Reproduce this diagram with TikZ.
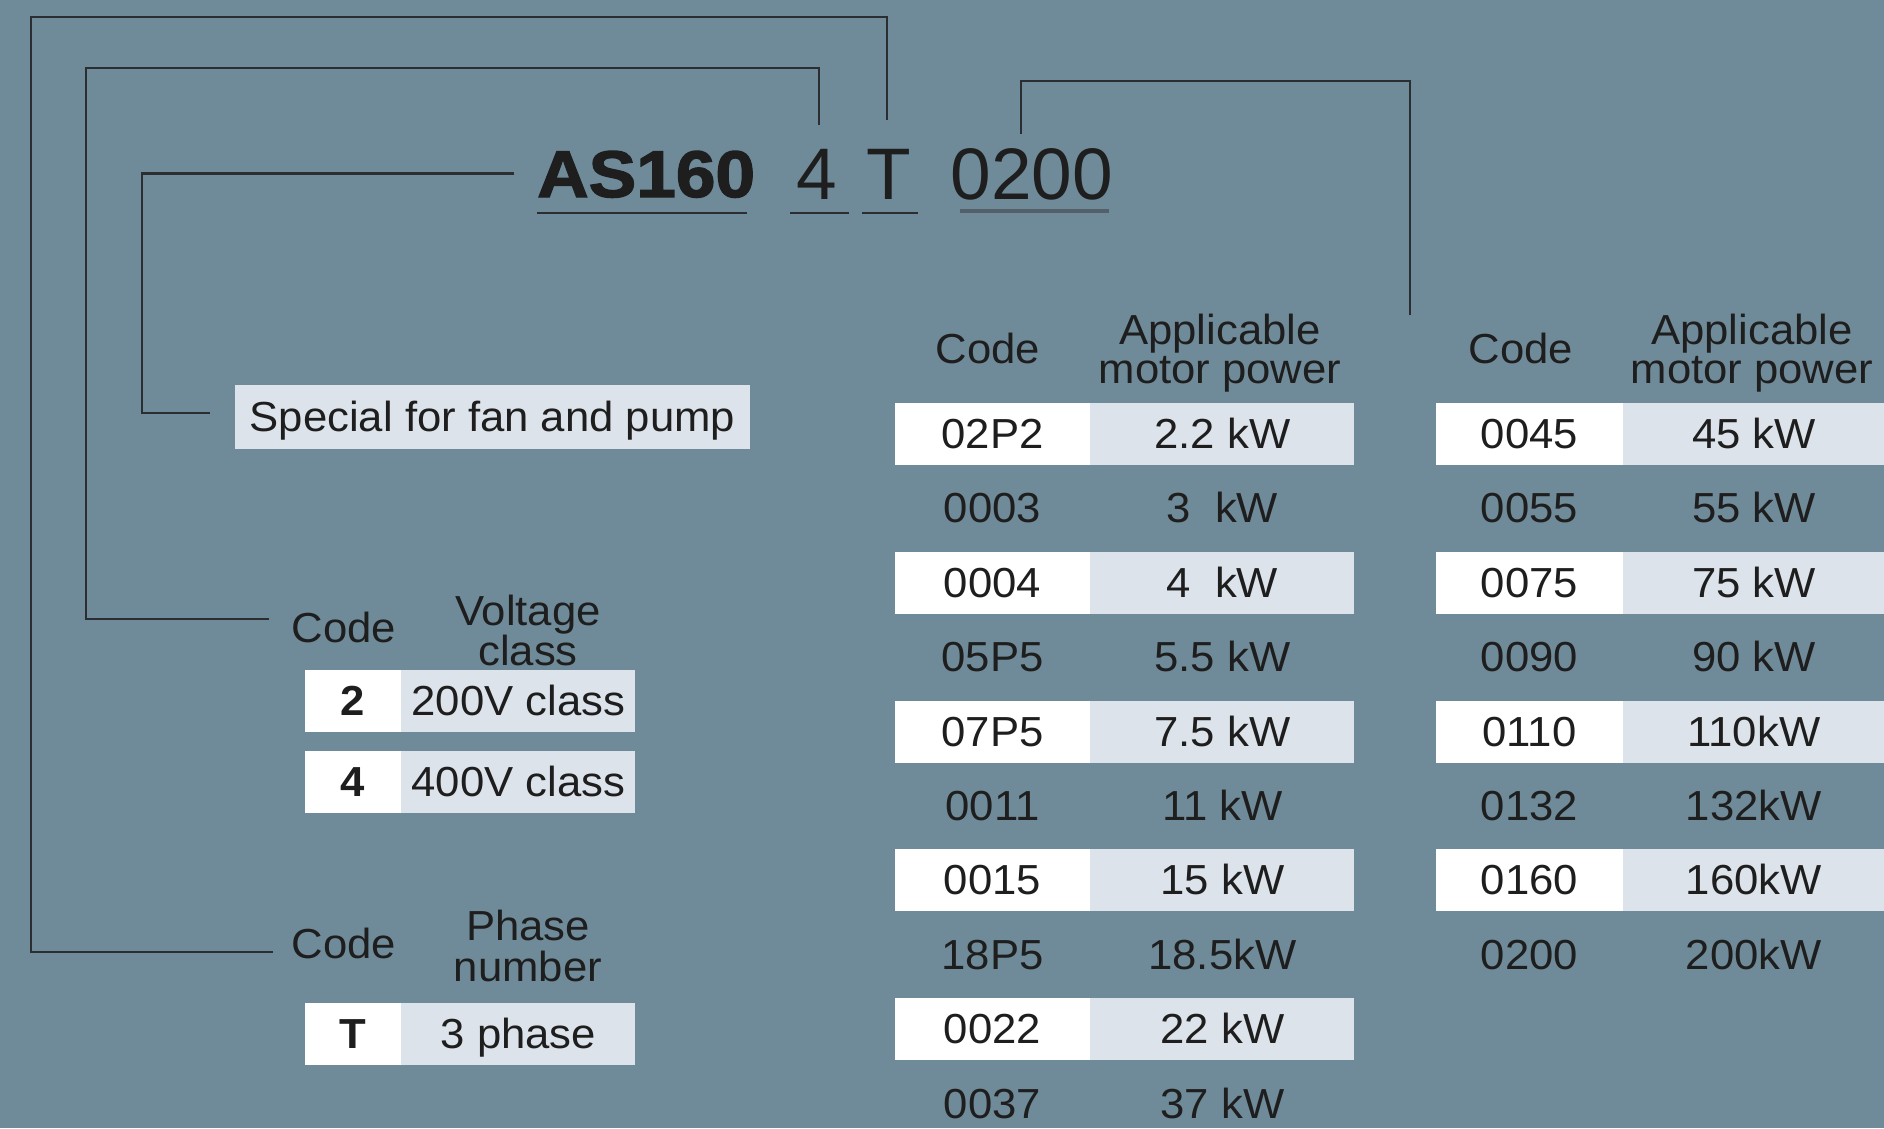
\documentclass[tikz,border=0pt]{standalone}
\usepackage{fontspec}
\setmainfont{Liberation Sans}
\newfontfamily\tabfont{Liberation Sans}[FakeStretch=1.04]
\newfontfamily\heavyfont{Liberation Sans}[FakeStretch=1.08,FakeBold=2]
\usetikzlibrary{positioning}
\definecolor{panel}{HTML}{6F8B99}
\definecolor{paleblue}{HTML}{DCE3EA}
\definecolor{ink}{HTML}{1E1E1E}
\definecolor{leadline}{HTML}{2B2E31}
\definecolor{ulgrey}{HTML}{535F69}
\tikzset{
  lead/.style={draw=leadline, line width=2.6pt},
  uline/.style={draw=leadline, line width=2.6pt},
  tabcell/.style={inner sep=0pt, minimum height=62pt, text height=29pt, text depth=0pt,
    font=\tabfont\fontsize{42}{42}\selectfont, text=ink},
  codecell/.style={tabcell, fill=white},
  powercell/.style={tabcell, fill=paleblue},
  colhead/.style={inner sep=0pt, align=center, font=\tabfont\fontsize{42}{39}\selectfont, text=ink},
  codepart/.style={inner sep=0pt, anchor=base, text height=52pt, text depth=0pt,
    font=\fontsize{73}{73}\selectfont, text=ink}
}
\begin{document}
\begin{tikzpicture}[x=1pt, y=-1pt, line join=miter]
  \useasboundingbox (0,0) rectangle (1884,1128);
  \fill[panel] (0,0) rectangle (1884,1128);

  % model code
  \node[codepart, anchor=base west, text height=47pt, font=\heavyfont\bfseries\fontsize{66}{66}\selectfont] (series) at (537,197) {AS160};
  \node[codepart] (volt) at (817,199) {4};
  \node[codepart] (phase) at (889,199) {T};
  \node[codepart] (power) at (1032,199) {0200};
  \draw[uline] (537,213) -- (747,213);
  \draw[uline] (790,213) -- (849,213);
  \draw[uline] (862,213) -- (918,213);
  \draw[uline, draw=ulgrey, line width=4pt] (960,211) -- (1109,211);

  % leaders
  \coordinate (fan end) at (210,413);
  \coordinate (volt end) at (269,619);
  \coordinate (phase end) at (273,952);
  \coordinate (power end) at (1410,315);
  \draw[lead] ([xshift=-23pt]series.west) -| (142,413) -- (fan end);
  \draw[lead] ([xshift=2pt,yshift=22pt]volt.north) |- (86,68) |- (volt end);
  \draw[lead] ([xshift=-2pt,yshift=27pt]phase.north) |- (31,17) |- (phase end);
  \draw[lead] ([xshift=-11pt,yshift=13pt]power.north) |- (1410,81) -- (power end);

  \node[powercell, minimum width=515pt, minimum height=64pt] (fan) at (492.5,417) {Special for fan and pump};

  % voltage class
  \node[colhead, anchor=base] (vcode) at (344,642) {Code};
  \node[colhead, anchor=north] (vclass) at (528,595) {Voltage\\class};
  \node[codecell, minimum width=96pt, font=\tabfont\bfseries\fontsize{42}{42}\selectfont] (v2) at (353,701) {2};
  \node[powercell, minimum width=234pt, right=0pt of v2] (v2desc) {200V class};
  \node[codecell, minimum width=96pt, font=\tabfont\bfseries\fontsize{42}{42}\selectfont] (v4) at (353,782) {4};
  \node[powercell, minimum width=234pt, right=0pt of v4] (v4desc) {400V class};

  % phase number
  \node[colhead, anchor=base] (pcode) at (344,958) {Code};
  \node[colhead, anchor=north, font=\tabfont\fontsize{42}{41}\selectfont] (pnum) at (528,910) {Phase\\number};
  \node[codecell, minimum width=96pt, font=\tabfont\bfseries\fontsize{42}{42}\selectfont] (pT) at (353,1033.5) {T};
  \node[powercell, minimum width=234pt, right=0pt of pT] (pTdesc) {3 phase};

  % motor power, first column
  \node[colhead, anchor=base] (acode) at (988,363) {Code};
  \node[colhead, anchor=north] (apower) at (1220,314) {Applicable\\motor power};
  \foreach \code/\kw [count=\i from 0] in {02P2/2.2 kW, 0003/3\ \ kW, 0004/4\ \ kW, 05P5/5.5 kW, 07P5/7.5 kW,
      0011/11 kW, 0015/15 kW, 18P5/18.5kW, 0022/22 kW, 0037/37 kW}{
    \ifodd\i \def\codestyle{tabcell}\def\kwstyle{tabcell}\else \def\codestyle{codecell}\def\kwstyle{powercell}\fi
    \node[\codestyle, minimum width=195pt] (a\i) at (992.5,{434+74.4*\i}) {\code};
    \node[\kwstyle, minimum width=264pt, right=0pt of a\i] (akw\i) {\kw};
  }

  % motor power, second column
  \node[colhead, anchor=base] (bcode) at (1521,363) {Code};
  \node[colhead, anchor=north] (bpower) at (1752,314) {Applicable\\motor power};
  \foreach \code/\kw [count=\i from 0] in {0045/45 kW, 0055/55 kW, 0075/75 kW, 0090/90 kW,
      0110/110kW, 0132/132kW, 0160/160kW, 0200/200kW}{
    \ifodd\i \def\codestyle{tabcell}\def\kwstyle{tabcell}\else \def\codestyle{codecell}\def\kwstyle{powercell}\fi
    \node[\codestyle, minimum width=187pt] (b\i) at (1529.5,{434+74.4*\i}) {\code};
    \node[\kwstyle, minimum width=261pt, right=0pt of b\i] (bkw\i) {\kw};
  }
\end{tikzpicture}
\end{document}
